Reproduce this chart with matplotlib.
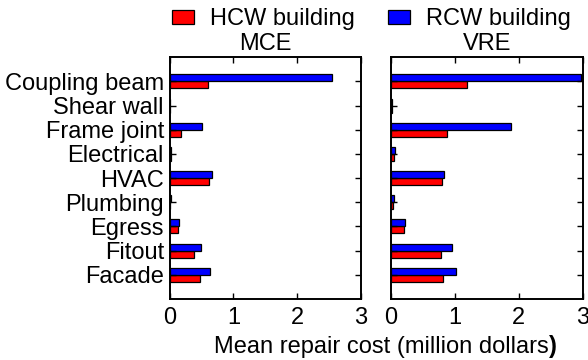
import matplotlib
matplotlib.use("Agg")
import matplotlib.pyplot as plt
import numpy as np

plt.rcParams['font.family'] = ['Liberation Sans', 'DejaVu Sans']

components = ["Coupling beam", "Shear wall", "Frame joint", "Electrical", "HVAC",
              "Plumbing", "Egress", "Fitout", "Facade"]
panels = ["MCE", "VRE"]
series_names = ["HCW building", "RCW building"]

# Mean repair cost (million dollars), one list per building per hazard level
hcw_mce = [0.60, 0.005, 0.18, 0.03, 0.62, 0.01, 0.14, 0.38, 0.47]
rcw_mce = [2.54, 0.005, 0.51, 0.03, 0.66, 0.02, 0.15, 0.49, 0.63]
hcw_vre = [1.19, 0.01, 0.87, 0.05, 0.80, 0.03, 0.20, 0.79, 0.81]
rcw_vre = [2.97, 0.01, 1.88, 0.06, 0.83, 0.04, 0.22, 0.96, 1.02]

x_ticks = [0, 1, 2, 3]

data = {"MCE": (hcw_mce, rcw_mce), "VRE": (hcw_vre, rcw_vre)}
colors = ["#ff0000", "#0000ff"]

fig = plt.figure(figsize=(5.88, 3.60), dpi=100)
W, H = 588, 360
ax_w = (361 - 169.5) / W
ax_b = (360 - 299) / H
ax_h = (299 - 57.3) / H
lefts = [169.5 / W, 391 / W]

fs = 17
pos = np.arange(1, len(components) + 1)
bh = 0.29

handles = []
for i, name in enumerate(panels):
    ax = fig.add_axes([lefts[i], ax_b, ax_w, ax_h])
    hcw, rcw = data[name]
    hb = ax.barh(pos + bh / 2, hcw, height=bh, color=colors[0],
                 edgecolor="black", linewidth=0.9)
    rb = ax.barh(pos - bh / 2, rcw, height=bh, color=colors[1],
                 edgecolor="black", linewidth=0.9)
    if i == 0:
        handles = [hb, rb]
    ax.set_xlim(0, 3)
    ax.set_ylim(10, 0)
    ax.set_xticks(x_ticks)
    ax.set_xticklabels([str(t) for t in x_ticks])
    ax.set_yticks(pos)
    if i == 0:
        ax.set_yticklabels(components)
    else:
        ax.set_yticklabels([])
    ax.tick_params(direction="in", length=4, width=1.0, labelsize=fs,
                   top=True, right=True, pad=4)
    ax.tick_params(axis="x", pad=6)
    for s in ax.spines.values():
        s.set_linewidth(1.4)
    ax.set_title(name, fontsize=fs, pad=5)

fig.legend(handles, series_names, loc="upper left", ncol=2,
           bbox_to_anchor=(171.5 / W, 1 - 8 / H), frameon=False,
           fontsize=fs, handlelength=0.95, handleheight=0.55,
           handletextpad=0.68, columnspacing=1.4, borderpad=0,
           borderaxespad=0)

lab = fig.text(214 / W, 7 / H, "Mean repair cost (million dollars",
               fontsize=fs, ha="left", va="baseline")
fig.add_artist(plt.Annotation(")", xy=(1, 0), xycoords=lab, ha="left",
                              va="bottom", fontsize=fs, fontweight="bold"))

fig.savefig("out.png", dpi=100)
